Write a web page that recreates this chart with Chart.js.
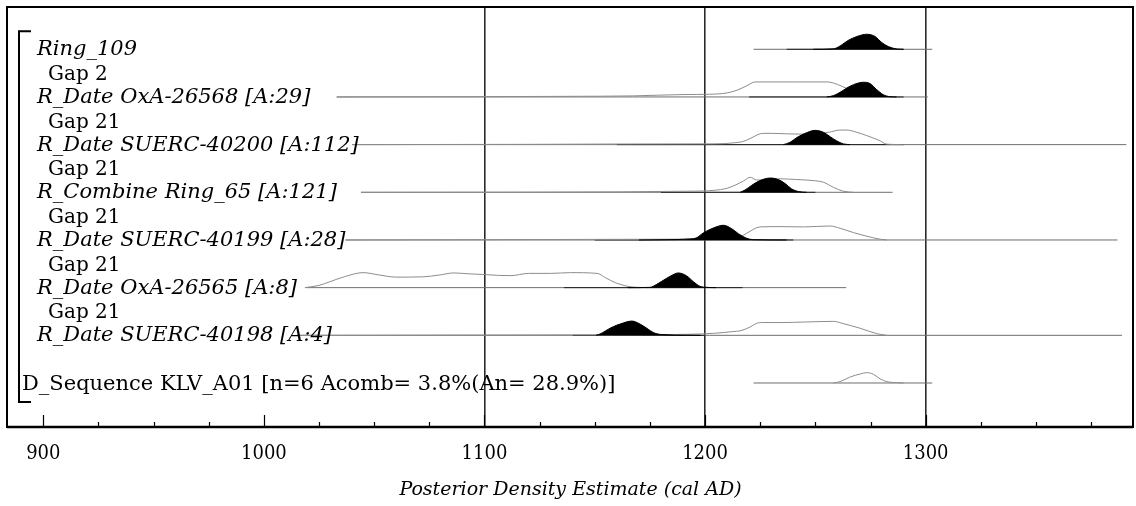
<!DOCTYPE html>
<html>
<head>
<meta charset="utf-8">
<script src="https://cdn.jsdelivr.net/npm/chart.js@4.4.1/dist/chart.umd.min.js"></script>
<style>
  html, body { margin: 0; padding: 0; background: #fff; }
  canvas { display: block; }
</style>
</head>
<body>
<canvas id="chart" width="1136" height="506"></canvas>
<script>
// ---- Model rows, top to bottom ----
const rowLabels = [
  'Ring_109',
  'R_Date OxA-26568 [A:29]',
  'R_Date SUERC-40200 [A:112]',
  'R_Combine Ring_65 [A:121]',
  'R_Date SUERC-40199 [A:28]',
  'R_Date OxA-26565 [A:8]',
  'R_Date SUERC-40198 [A:4]',
  'D_Sequence KLV_A01 [n=6 Acomb= 3.8%(An= 28.9%)]'
];
const gapLabels = ['Gap 2', 'Gap 21', 'Gap 21', 'Gap 21', 'Gap 21', 'Gap 21'];

// ---- Axis ----
const axisTicks = [900, 1000, 1100, 1200, 1300];
const axisTitle = 'Posterior Density Estimate (cal AD)';

// ---- Full ranges of each row (cal AD) ----
const likeRanges = [
  [1222, 1303], [1033, 1301], [1040, 1391], [1044, 1285],
  [1037, 1387], [1019, 1264], [1015, 1389], [1222, 1303]
];
const postRanges = [
  [1237, 1290], [1220, 1290], [1160, 1290], [1180, 1250],
  [1150, 1240], [1136, 1217], [1140, 1200], null
];

// ---- Unmodelled (likelihood) distributions: years and relative density ----
const like1Years = [1033, 1100, 1152, 1167, 1190, 1202, 1210, 1214.5, 1219, 1222.7, 1240, 1255.3, 1260, 1264.4, 1270, 1276, 1282.5];
const like1Dens  = [0, 0.02, 0.05, 0.07, 0.16, 0.18, 0.27, 0.45, 0.75, 1, 1, 1, 0.84, 0.55, 0.3, 0.12, 0];

const like2Years = [1040, 1120, 1160, 1200, 1209, 1213, 1217, 1220.4, 1224, 1226, 1230, 1237, 1243, 1250, 1256, 1261, 1264.3, 1268.8, 1273.3, 1279.4, 1282.4, 1290];
const like2Dens  = [0, 0.02, 0.04, 0.05, 0.07, 0.12, 0.2, 0.4, 0.67, 0.75, 0.75, 0.72, 0.7, 0.75, 0.82, 0.97, 0.97, 0.82, 0.6, 0.25, 0.03, 0];

const like3Years = [1044, 1120, 1161, 1190, 1199, 1204, 1210, 1214, 1217.4, 1220.4, 1223.4, 1227, 1234, 1241.6, 1249, 1253.7, 1258.2, 1262.7, 1267.3];
const like3Dens  = [0, 0.01, 0.03, 0.07, 0.09, 0.13, 0.27, 0.5, 0.75, 1.0, 0.82, 0.82, 0.9, 0.85, 0.78, 0.67, 0.33, 0.07, 0];

const like4Years = [1037, 1100, 1150, 1180, 1196, 1203, 1210, 1215.9, 1218.9, 1224.9, 1234, 1244.6, 1256.7, 1261.2, 1267.3, 1273.3, 1279.4, 1282.4];
const like4Dens  = [0, 0.02, 0.04, 0.05, 0.06, 0.08, 0.12, 0.22, 0.45, 0.87, 0.89, 0.87, 0.93, 0.78, 0.49, 0.25, 0.05, 0];

const like5Years = [1018.6, 1025, 1030, 1037, 1045, 1052, 1060, 1072, 1080, 1086, 1093, 1099, 1106, 1112, 1120, 1130, 1139, 1151, 1155, 1159, 1162, 1166, 1175];
const like5Dens  = [0, 0.15, 0.4, 0.75, 1.0, 0.85, 0.7, 0.72, 0.85, 0.98, 0.92, 0.88, 0.82, 0.8, 0.95, 0.95, 1.0, 0.95, 0.65, 0.35, 0.2, 0.06, 0];

const like6Years = [1015, 1100, 1150, 1182.6, 1198, 1203.8, 1212.7, 1215.9, 1220.4, 1223.4, 1225.7, 1234, 1246.1, 1258.2, 1262.7, 1270.3, 1277.9, 1282.4];
const like6Dens  = [0, 0.02, 0.03, 0.05, 0.09, 0.13, 0.25, 0.3, 0.55, 0.8, 0.85, 0.85, 0.89, 0.93, 0.78, 0.47, 0.11, 0];

const like7Years = [1258.2, 1261.2, 1265.8, 1270.3, 1273.3, 1276.3, 1279.4, 1282.4, 1286.9, 1290];
const like7Dens  = [0, 0.09, 0.4, 0.6, 0.69, 0.58, 0.27, 0.09, 0.02, 0];

// ---- Modelled (posterior) distributions ----
const post0Years = [1249, 1258.2, 1261.2, 1265, 1268.8, 1273.3, 1277.1, 1280.1, 1283.1, 1287, 1290];
const post0Dens  = [0, 0.03, 0.22, 0.6, 0.85, 1, 0.85, 0.45, 0.18, 0.02, 0];

const post1Years = [1255.2, 1258.3, 1261.2, 1264.3, 1267.3, 1271.8, 1274.8, 1277.8, 1280.8, 1283.8, 1286.8];
const post1Dens  = [0, 0.09, 0.31, 0.6, 0.82, 0.98, 0.89, 0.49, 0.15, 0.02, 0];

const post2Years = [1235.5, 1238.5, 1241.6, 1245.4, 1249.9, 1253.7, 1256.7, 1259.7, 1262.7, 1265.7];
const post2Dens  = [0, 0.15, 0.47, 0.75, 0.95, 0.82, 0.53, 0.25, 0.05, 0];

const post3Years = [1215.9, 1218.1, 1221.2, 1224.9, 1229.5, 1233.2, 1236.3, 1239.3, 1242.3, 1246];
const post3Dens  = [0, 0.15, 0.47, 0.78, 0.95, 0.85, 0.58, 0.22, 0.05, 0];

const post4Years = [1170, 1182.6, 1193.2, 1196.2, 1199.2, 1203.8, 1208.3, 1212.1, 1215.1, 1218.9, 1221.9, 1237];
const post4Dens  = [0, 0.02, 0.07, 0.15, 0.47, 0.8, 0.98, 0.75, 0.42, 0.11, 0.02, 0];

const post5Years = [1165, 1175, 1178.1, 1181.1, 1184.1, 1187.9, 1191.7, 1194.7, 1197.7, 1200.8, 1205];
const post5Dens  = [0, 0.02, 0.22, 0.49, 0.75, 0.98, 0.78, 0.4, 0.09, 0.02, 0];

const post6Years = [1150.6, 1152.4, 1154.6, 1156.9, 1159.9, 1161.5, 1166.8, 1170.5, 1173.6, 1176.6, 1180.4, 1191.7, 1198];
const post6Dens  = [0, 0.09, 0.27, 0.47, 0.67, 0.75, 0.95, 0.75, 0.47, 0.18, 0.05, 0.01, 0];

const likelihoods = [null,
  [like1Years, like1Dens], [like2Years, like2Dens], [like3Years, like3Dens],
  [like4Years, like4Dens], [like5Years, like5Dens], [like6Years, like6Dens],
  [like7Years, like7Dens]];
const posteriors = [
  [post0Years, post0Dens], [post1Years, post1Dens], [post2Years, post2Dens],
  [post3Years, post3Dens], [post4Years, post4Dens], [post5Years, post5Dens],
  [post6Years, post6Dens], null];

// ---- Drawing ----
const PEAK = 0.315;               // height of a unit density, in row units
const SERIF = '"DejaVu Serif", "Liberation Serif", serif';
const SERIF_NARROW = '"DejaVu Serif Condensed", "DejaVu Serif", serif';
const gridYears = [1100, 1200, 1300];

function curve(years, dens, row) {
  return years.map((x, i) => ({ x: x, y: -row + dens[i] * PEAK }));
}

const datasets = [];
posteriors.forEach((p, r) => {
  if (!p) return;
  datasets.push({
    data: curve(p[0], p[1], r), borderColor: '#000', backgroundColor: '#000',
    borderWidth: 1, fill: { value: -r }, pointRadius: 0,
    cubicInterpolationMode: 'monotone', order: 0
  });
});
likelihoods.forEach((l, r) => {
  if (!l) return;
  datasets.push({
    data: curve(l[0], l[1], r), borderColor: '#8c8c8c', backgroundColor: 'transparent',
    borderWidth: 1, fill: false, pointRadius: 0,
    cubicInterpolationMode: 'monotone', order: 1
  });
});
postRanges.forEach((rg, r) => {
  if (!rg) return;
  datasets.push({
    data: [{ x: rg[0], y: -r }, { x: rg[1], y: -r }], borderColor: '#222',
    borderWidth: 1, fill: false, pointRadius: 0, order: 2
  });
});
likeRanges.forEach((rg, r) => {
  datasets.push({
    data: [{ x: rg[0], y: -r }, { x: rg[1], y: -r }], borderColor: '#6e6e6e',
    borderWidth: 1, fill: false, pointRadius: 0, order: 3
  });
});

const decor = {
  id: 'decor',
  afterDraw(chart) {
    const ctx = chart.ctx;
    const a = chart.chartArea;
    const xs = chart.scales.x, ys = chart.scales.y;
    ctx.save();

    // frame
    ctx.strokeStyle = '#000';
    ctx.lineWidth = 2;
    ctx.strokeRect(a.left - 1, a.top - 1, a.right - a.left + 1, a.bottom - a.top + 1);
    ctx.lineWidth = 2.5;
    ctx.beginPath();
    ctx.moveTo(a.left - 1, a.bottom);
    ctx.lineTo(a.right, a.bottom);
    ctx.stroke();

    // inward tick marks, major every 100 years, minor every 25
    ctx.lineWidth = 1.2;
    for (let v = 900; v <= 1375; v += 25) {
      const px = Math.round(xs.getPixelForValue(v)) + 0.5;
      const len = v % 100 === 0 ? 12 : 5;
      ctx.beginPath();
      ctx.moveTo(px, a.bottom);
      ctx.lineTo(px, a.bottom - len);
      ctx.stroke();
    }

    // sequence bracket
    const yTop = ys.getPixelForValue(0) - 18;
    const yBot = ys.getPixelForValue(-7) + 19;
    ctx.lineWidth = 2;
    ctx.beginPath();
    ctx.moveTo(31, yTop);
    ctx.lineTo(19, yTop);
    ctx.lineTo(19, yBot);
    ctx.lineTo(31, yBot);
    ctx.stroke();

    // row labels
    ctx.fillStyle = '#000';
    ctx.textBaseline = 'alphabetic';
    ctx.textAlign = 'left';
    rowLabels.forEach((t, r) => {
      const y = ys.getPixelForValue(-r);
      if (r === rowLabels.length - 1) {
        ctx.font = '21px ' + SERIF;
        ctx.fillText(t, 22, y + 7);
      } else {
        ctx.font = 'italic 21px ' + SERIF;
        ctx.fillText(t, 37, y + 6);
      }
    });
    ctx.font = '20px ' + SERIF;
    gapLabels.forEach((t, i) => {
      const y = ys.getPixelForValue(-(i + 0.5));
      ctx.fillText(t, 48, y + 7);
    });
    ctx.restore();
  }
};

new Chart(document.getElementById('chart'), {
  type: 'line',
  data: { datasets: datasets },
  options: {
    responsive: false,
    devicePixelRatio: 1,
    animation: false,
    layout: { padding: { left: 8, right: 3, top: 8, bottom: 0 } },
    plugins: { legend: { display: false }, tooltip: { enabled: false } },
    scales: {
      x: {
        type: 'linear', min: 884, max: 1394, position: 'bottom',
        afterBuildTicks: s => { s.ticks = axisTicks.map(v => ({ value: v })); },
        afterFit: s => { s.height = 79; },
        border: { display: false },
        grid: {
          drawTicks: false, lineWidth: 1.6,
          color: c => (c.tick && gridYears.includes(c.tick.value)) ? '#2a2a2a' : 'rgba(0,0,0,0)'
        },
        ticks: {
          color: '#000', padding: 15, maxRotation: 0, autoSkip: false,
          font: { family: SERIF_NARROW, size: 20 },
          callback: v => String(v)
        },
        title: {
          display: true, text: axisTitle, color: '#000',
          font: { family: SERIF, size: 19, style: 'italic' },
          padding: { top: 0, bottom: 5 }
        }
      },
      y: { type: 'linear', display: false, min: -7.923, max: 0.866 }
    }
  },
  plugins: [decor]
});
</script>
</body>
</html>
